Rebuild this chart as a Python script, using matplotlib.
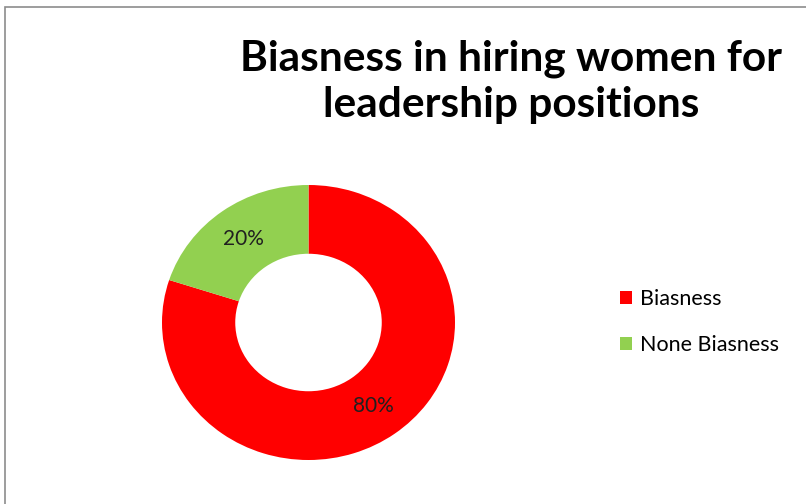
import matplotlib
matplotlib.use('Agg')
import matplotlib.pyplot as plt
from matplotlib.patches import Rectangle

# Chart data
categories = ['Biasness', 'None Biasness']
shares = [80, 20]
colors = ['#FF0000', '#92D050']
title = 'Biasness in hiring women for\nleadership positions'

plt.rcParams['font.family'] = ['Lato', 'DejaVu Sans']

W, H = 806, 504
fig = plt.figure(figsize=(W / 100, H / 100), dpi=100)
fig.patch.set_facecolor('white')

# Grey frame around the chart area (right/bottom edges cut off in the original)
fig.patches.append(Rectangle((5 / W, -0.1), 1.2, 1 - 7 / H + 0.1, transform=fig.transFigure,
                             fill=False, edgecolor='#8c8c8c', linewidth=1.2))

# Title
fig.text(511 / W, 1 - 82 / H, title, ha='center', va='center', fontsize=30.5,
         fontweight='bold', linespacing=1.25, color='black')

# Donut
ax = fig.add_axes([162 / W, 44 / H, 293 / W, 275 / H])
wedges, texts, autotexts = ax.pie(shares, colors=colors, startangle=90, counterclock=False,
                                  autopct='%d%%', pctdistance=0.75,
                                  wedgeprops=dict(width=0.5, edgecolor='none'),
                                  textprops=dict(fontsize=15, color='#202020'))
ax.set_aspect('auto')
ax.set_xlim(-1, 1)
ax.set_ylim(-1, 1)
ax.axis('off')

# Legend
fig.legend(wedges, categories, loc='center left', bbox_to_anchor=(601 / W, 1 - 322 / H),
           frameon=False, fontsize=15.5, handlelength=0.55, handleheight=0.55,
           handletextpad=0.35, labelspacing=1.2)

fig.savefig('out.png', dpi=100, facecolor='white')
